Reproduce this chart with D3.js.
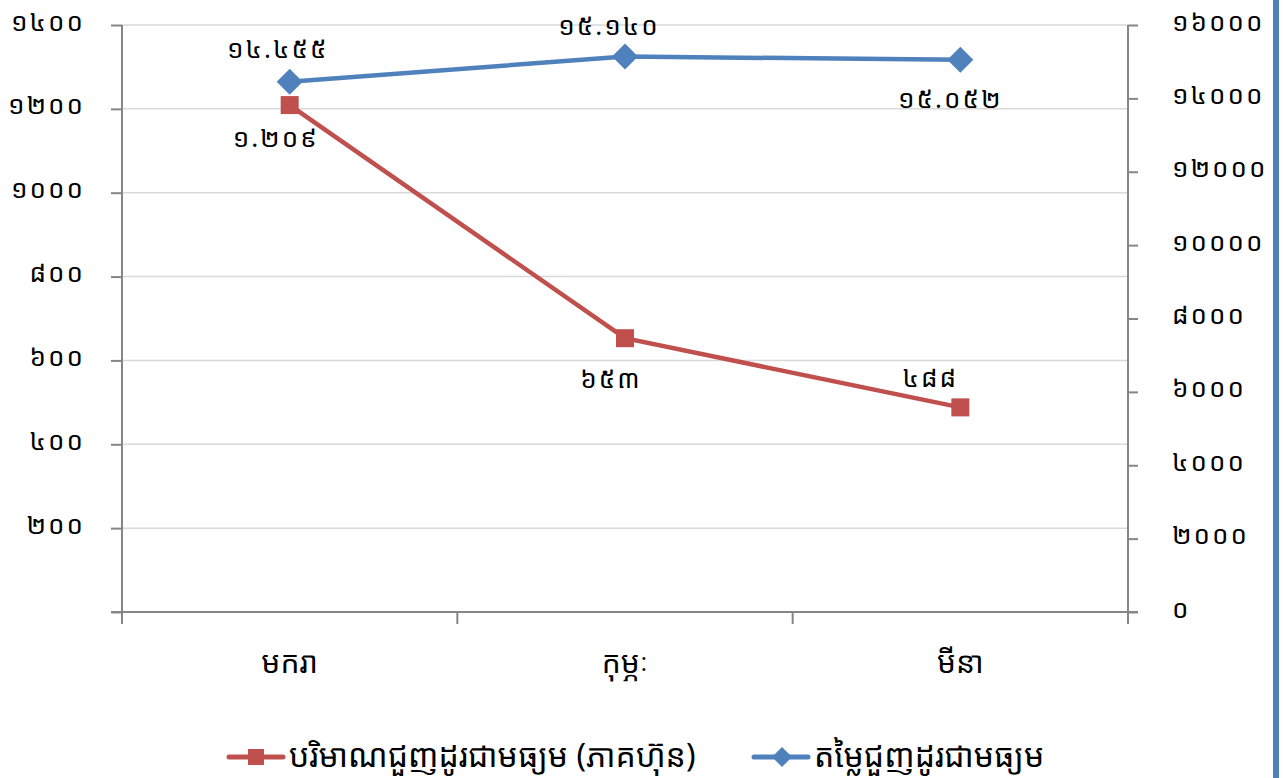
<!DOCTYPE html>
<html>
<head>
<meta charset="utf-8">
<script src="https://cdn.jsdelivr.net/npm/d3@7"></script>
<style>
  html, body { margin: 0; padding: 0; background: #fff; }
  svg { display: block; }
  text { font-family: "Noto Sans Khmer", "Khmer OS", "Noto Sans", "DejaVu Sans", sans-serif; fill: #000; }
</style>
</head>
<body>
<svg id="chart" width="1285" height="778"></svg>
<script>
const categories = ["មករា", "កុម្ភៈ", "មីនា"];
const volumeValues = [1209, 653, 488];        // left axis
const valueValues = [14455, 15140, 15052];    // right axis
const leftTicks = [0, 200, 400, 600, 800, 1000, 1200, 1400];
const rightTicks = [0, 2000, 4000, 6000, 8000, 10000, 12000, 14000, 16000];
const seriesNames = ["បរិមាណជួញដូរជាមធ្យម (ភាគហ៊ុន)", "តម្លៃជួញដូរជាមធ្យម"];

const khDigits = "០១២៣៤៥៦៧៨៩";
const toKh = s => String(s).replace(/[0-9]/g, d => khDigits[+d]);
const fmtDot = v => toKh(d3.format(",")(v).replace(/,/g, "."));

const svg = d3.select("#chart");
const W = 1285, H = 778;
const plot = { left: 122, right: 1128, top: 25, bottom: 612 };
const red = "#c0504d", blue = "#4f81bd", axisCol = "#868686", gridCol = "#d9d9d9";

const x = d3.scaleBand().domain(categories).range([plot.left, plot.right]);
const yL = d3.scaleLinear().domain([0, 1400]).range([plot.bottom, plot.top]);
const yR = d3.scaleLinear().domain([0, 16000]).range([plot.bottom, plot.top]);
const cx = c => x(c) + x.bandwidth() / 2;

// gridlines
svg.append("g").selectAll("line").data(leftTicks.filter(t => t > 0)).join("line")
  .attr("x1", plot.left).attr("x2", plot.right)
  .attr("y1", d => yL(d)).attr("y2", d => yL(d))
  .attr("stroke", gridCol).attr("stroke-width", 1.5);

// left axis (zero label not shown)
const gL = svg.append("g").attr("transform", `translate(${plot.left},0)`)
  .call(d3.axisLeft(yL).tickValues(leftTicks).tickSize(11).tickPadding(26).tickFormat(d => d === 0 ? "" : toKh(d)));
gL.select(".domain").attr("d", `M0,${plot.top}V${plot.bottom + 11}`);
// right axis
const gR = svg.append("g").attr("transform", `translate(${plot.right},0)`)
  .call(d3.axisRight(yR).tickValues(rightTicks).tickSize(10).tickPadding(34).tickFormat(d => toKh(d)));
gR.select(".domain").attr("d", `M0,${plot.top}V${plot.bottom + 11}`);
[gL, gR].forEach(g => {
  g.selectAll(".domain").attr("stroke", axisCol).attr("stroke-width", 2).attr("fill", "none");
  g.selectAll(".tick line").attr("stroke", axisCol).attr("stroke-width", 2);
  g.selectAll(".tick text").attr("font-size", 26).attr("dy", "5px").attr("letter-spacing", 2)
    .style("font-family", "'Noto Sans Khmer','Khmer OS','Noto Sans',sans-serif");
});

// x axis
svg.append("line").attr("x1", plot.left - 11).attr("x2", plot.right + 10)
  .attr("y1", plot.bottom).attr("y2", plot.bottom).attr("stroke", axisCol).attr("stroke-width", 2);
const xBounds = categories.map(c => x(c)).concat([x(categories[categories.length - 1]) + x.bandwidth()]);
svg.append("g").selectAll("line").data(xBounds).join("line")
  .attr("x1", d => d).attr("x2", d => d).attr("y1", plot.bottom).attr("y2", plot.bottom + 12)
  .attr("stroke", axisCol).attr("stroke-width", 2);
svg.append("g").selectAll("text").data(categories).join("text")
  .attr("x", d => cx(d)).attr("y", 673).attr("text-anchor", "middle").attr("font-size", 30).text(d => d);

// lines
const lineL = d3.line().x((d, i) => cx(categories[i])).y(d => yL(d));
const lineR = d3.line().x((d, i) => cx(categories[i])).y(d => yR(d));
svg.append("path").attr("d", lineR(valueValues)).attr("fill", "none").attr("stroke", blue).attr("stroke-width", 4.5);
svg.append("path").attr("d", lineL(volumeValues)).attr("fill", "none").attr("stroke", red).attr("stroke-width", 4.5);

// markers
const sq = 18, dm = 13;
svg.append("g").selectAll("rect").data(volumeValues).join("rect")
  .attr("x", (d, i) => cx(categories[i]) - sq / 2).attr("y", d => yL(d) - sq / 2)
  .attr("width", sq).attr("height", sq).attr("fill", red);
svg.append("g").selectAll("path").data(valueValues).join("path")
  .attr("transform", (d, i) => `translate(${cx(categories[i])},${yR(d)})`)
  .attr("d", `M0,${-dm}L${dm},0L0,${dm}L${-dm},0Z`).attr("fill", blue);

// data labels (offsets relative to the point)
const volOffsets = [[-14, 42], [-14, 50], [-30, -20]];
const valOffsets = [[-12, -24], [-16, -22], [-10, 48]];
svg.append("g").selectAll("text").data(volumeValues).join("text")
  .attr("x", (d, i) => cx(categories[i]) + volOffsets[i][0])
  .attr("y", (d, i) => yL(d) + volOffsets[i][1])
  .attr("text-anchor", "middle").attr("font-size", 26).attr("letter-spacing", 2).text(d => fmtDot(d));
svg.append("g").selectAll("text").data(valueValues).join("text")
  .attr("x", (d, i) => cx(categories[i]) + valOffsets[i][0])
  .attr("y", (d, i) => yR(d) + valOffsets[i][1])
  .attr("text-anchor", "middle").attr("font-size", 26).attr("letter-spacing", 2).text(d => fmtDot(d));

// legend
const legend = svg.append("g");
const legItems = [
  { name: seriesNames[0], color: red, shape: "square", x0: 229 },
  { name: seriesNames[1], color: blue, shape: "diamond", x0: 754 }
];
legItems.forEach(it => {
  const ly = 757;
  legend.append("line").attr("x1", it.x0).attr("x2", it.x0 + 54).attr("y1", ly).attr("y2", ly)
    .attr("stroke", it.color).attr("stroke-width", 5).attr("stroke-linecap", "round");
  if (it.shape === "square") {
    legend.append("rect").attr("x", it.x0 + 27 - 8).attr("y", ly - 8).attr("width", 16).attr("height", 16).attr("fill", it.color);
  } else {
    legend.append("path").attr("transform", `translate(${it.x0 + 28},${ly})`)
      .attr("d", "M0,-10L10,0L0,10L-10,0Z").attr("fill", it.color);
  }
  legend.append("text").attr("x", it.x0 + 60).attr("y", ly + 10).attr("font-size", 32).text(it.name);
});

// right edge bar
svg.append("rect").attr("x", 1273).attr("y", 0).attr("width", 6).attr("height", H).attr("fill", blue);
</script>
</body>
</html>
